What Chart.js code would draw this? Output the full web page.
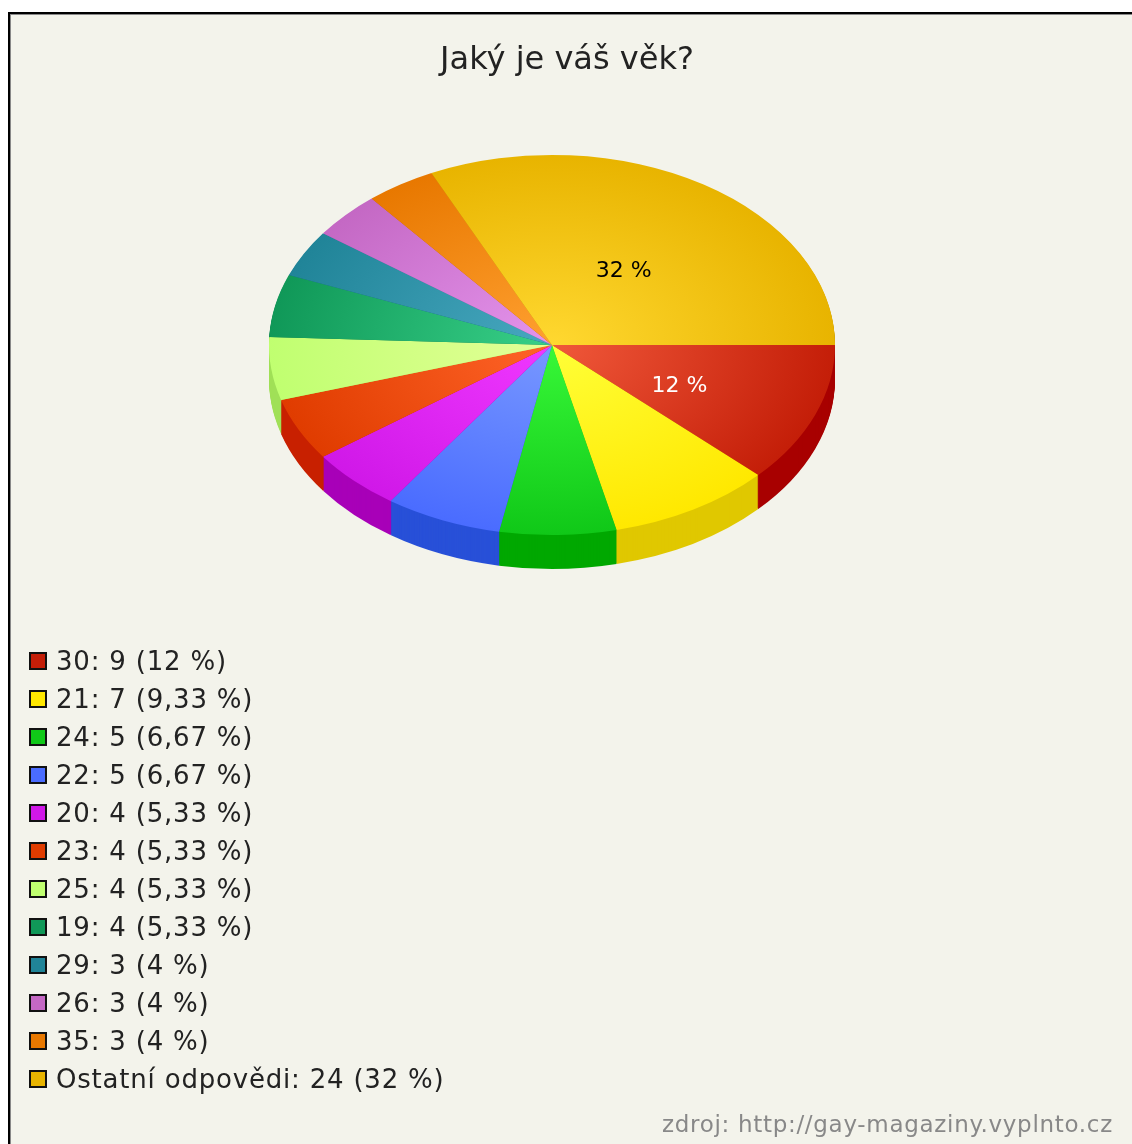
<!DOCTYPE html>
<html>
<head>
<meta charset="utf-8">
<script src="https://cdn.jsdelivr.net/npm/chart.js@4"></script>
<style>
    html, body { margin: 0; padding: 0; background: #fff; }
    body { width: 1132px; height: 1144px; position: relative; overflow: hidden; font-family: "DejaVu Sans", sans-serif; }
    .frame { position: absolute; left: 8px; top: 12px; width: 1140px; height: 1150px; background: #f3f3eb;
        border-left: 2px solid #000; border-top: 2px solid #000; box-shadow: inset 1px 1px 0 #888; }
    #myChart { position: absolute; left: 0; top: 0; }
    .legend { position: absolute; left: 29px; top: 642px; margin: 0; padding: 0; list-style: none; }
    .legend li { height: 38px; line-height: 38px; display: flex; align-items: center; font-size: 26px; letter-spacing: 0.8px; color: #222; }
    .legend .box { width: 18px; height: 18px; box-sizing: border-box; border: 2px solid #111; margin-right: 9px; }
    .source { position: absolute; right: 19px; top: 1111px; font-size: 23px; letter-spacing: 0.7px; color: #888; }
</style>
</head>
<body>
<div class="frame"></div>
<canvas id="myChart" width="1132" height="1144"></canvas>
<ul class="legend" id="legend"></ul>
<div class="source">zdroj: http://gay-magaziny.vyplnto.cz</div>
<script>
const titleText = 'Jaký je váš věk?'
const labels = ['30', '21', '24', '22', '20', '23', '25', '19', '29', '26', '35', 'Ostatní odpovědi']
const answers = [9, 7, 5, 5, 4, 4, 4, 4, 3, 3, 3, 24]

// top face: light centre -> base rim, plus the darker wall colour
const baseColors = ['#c41e08', '#ffe800', '#10c818', '#4a6cff', '#d018e8', '#e03c00', '#c0ff70', '#109858', '#208498', '#c468c4', '#e87800', '#e8b400']
const lightColors = ['#f0583a', '#ffff38', '#38f838', '#7898ff', '#f038ff', '#ff6428', '#e4ff98', '#38d088', '#48a8c0', '#e494ec', '#ffa030', '#ffd830']
const sideColors = ['#a80000', '#e0c800', '#00a800', '#2850d8', '#a800b8', '#c82000', '#a0e058', '#087848', '#106878', '#a050a0', '#c06000', '#c09400']
const valueLabelColors = ['#fff', '#000', '#000', '#000', '#000', '#000', '#000', '#000', '#000', '#000', '#000', '#000']

const total = answers.reduce((a, b) => a + b, 0)
const pctText = (v) => String(Math.round(v / total * 10000) / 100).replace('.', ',') + ' %'

const squash = 190 / 283
const depth = 34
const pieShiftX = -15   // pie sits a bit left of the title

const applySquash = (ctx, area) => {
    ctx.translate(pieShiftX, area.top)
    ctx.scale(1, squash)
    ctx.translate(0, -area.top)
}

const pie3d = {
    id: 'pie3d',
    beforeDatasetsDraw(chart) {
        const ctx = chart.ctx
        const area = chart.chartArea
        const arcs = chart.getDatasetMeta(0).data
        for (let d = depth; d >= 1; d--) {
            ctx.save()
            ctx.translate(0, d)
            applySquash(ctx, area)
            arcs.forEach((arc, i) => {
                const p = arc.getProps(['x', 'y', 'startAngle', 'endAngle', 'outerRadius'], true)
                ctx.beginPath()
                ctx.moveTo(p.x, p.y)
                ctx.arc(p.x, p.y, p.outerRadius, p.startAngle, p.endAngle)
                ctx.closePath()
                ctx.fillStyle = sideColors[i]
                ctx.fill()
            })
            ctx.restore()
        }
        ctx.save()
        applySquash(ctx, area)
    },
    afterDatasetsDraw(chart) {
        const ctx = chart.ctx
        const area = chart.chartArea
        ctx.restore()
        const arcs = chart.getDatasetMeta(0).data
        ctx.save()
        ctx.font = '22px "DejaVu Sans", sans-serif'
        ctx.textAlign = 'center'
        ctx.textBaseline = 'middle'
        arcs.forEach((arc, i) => {
            if (answers[i] / total < 0.1) return
            const pos = arc.tooltipPosition(true)
            ctx.fillStyle = valueLabelColors[i]
            ctx.fillText(pctText(answers[i]), pos.x + pieShiftX - 4, area.top + (pos.y - area.top) * squash + 6)
        })
        ctx.restore()
    }
}

const topColor = (c) => {
    const i = c.dataIndex
    const area = c.chart.chartArea
    if (!area) return baseColors[i]
    const cx = (area.left + area.right) / 2
    const cy = (area.top + area.bottom) / 2
    const r = Math.min(area.width, area.height) / 2
    const g = c.chart.ctx.createRadialGradient(cx, cy, 0, cx, cy, r)
    g.addColorStop(0, lightColors[i])
    g.addColorStop(1, baseColors[i])
    return g
}

const ctx = document.getElementById('myChart')
const pieChart = new Chart(ctx, {
    type: 'pie',
    data: {
        labels: labels,
        datasets: [{
            data: answers,
            backgroundColor: topColor,
            borderWidth: 0,
            hoverOffset: 0,
            clip: false,
        }]
    },
    options: {
        responsive: false,
        animation: false,
        rotation: 90,
        events: [],
        layout: { padding: { left: 2, right: 0, top: 0, bottom: 423 } },
        plugins: {
            legend: { display: false },
            tooltip: { enabled: false },
            title: {
                display: true,
                text: titleText,
                color: '#222',
                font: { family: '"DejaVu Sans", sans-serif', size: 32, weight: 'normal', lineHeight: 1.2 },
                padding: { top: 41, bottom: 75.6 },
            }
        }
    },
    plugins: [pie3d]
});

const legend = document.getElementById('legend')
for (let i = 0; i < labels.length; i++) {
    let li = document.createElement('li')
    li.innerHTML = `<span class="box" style="background:${baseColors[i]}"></span>${labels[i]}: ${answers[i]} (${pctText(answers[i])})`
    legend.appendChild(li)
}
</script>
</body>
</html>
